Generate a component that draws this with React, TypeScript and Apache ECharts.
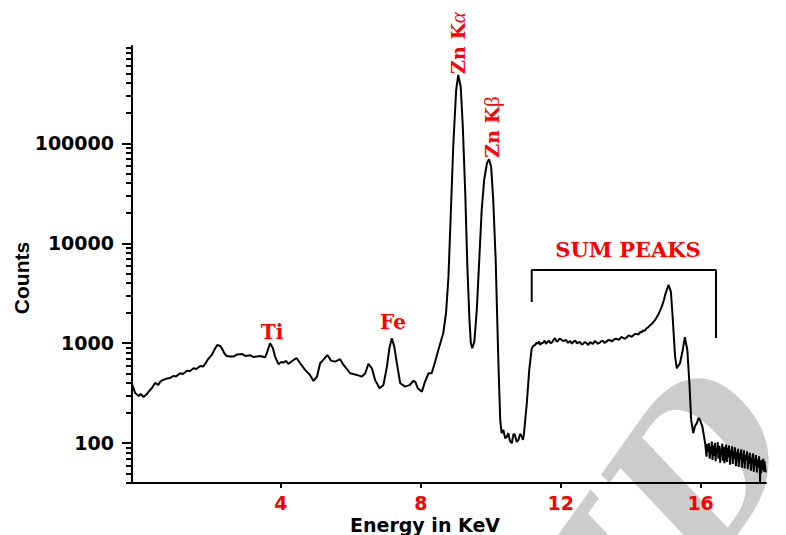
import React, { useEffect, useRef } from "react";
import * as echarts from "echarts";

// Spectrum (energy in keV, counts)
const energy = [
  -0.25, -0.17, -0.07, -0.01, 0.07, 0.17, 0.23, 0.31, 0.4, 0.49, 0.55, 0.63, 0.74, 0.83, 0.93, 1.0, 1.12, 1.2, 1.31, 1.4,
  1.5, 1.58, 1.69, 1.78, 1.83, 1.9, 2.02, 2.12, 2.18, 2.26, 2.32, 2.38, 2.45, 2.55, 2.64, 2.75, 2.88, 2.98, 3.12, 3.2,
  3.31, 3.4, 3.55, 3.61, 3.69, 3.77, 3.83, 3.93, 4.01, 4.07, 4.15, 4.21, 4.36, 4.45, 4.55, 4.69, 4.83, 4.93, 5.03, 5.12,
  5.21, 5.33, 5.43, 5.55, 5.69, 5.79, 5.98, 6.17, 6.31, 6.41, 6.5, 6.6, 6.69, 6.82, 6.93, 7.03, 7.1, 7.17, 7.24, 7.33,
  7.41, 7.55, 7.69, 7.78, 7.84, 7.91, 8.03, 8.12, 8.22, 8.31, 8.41, 8.5, 8.64, 8.72, 8.79, 8.86, 8.93, 9.01, 9.07, 9.14,
  9.2, 9.27, 9.33, 9.39, 9.43, 9.47, 9.53, 9.6, 9.67, 9.74, 9.81, 9.89, 9.95, 10.01, 10.07, 10.14, 10.19, 10.23, 10.27, 10.31,
  10.36, 10.41, 10.46, 10.5, 10.55, 10.6, 10.65, 10.69, 10.74, 10.79, 10.84, 10.89, 10.92, 10.95, 11.03, 11.1, 11.17, 11.22, 11.27, 11.31,
  11.35, 11.38, 11.41, 11.45, 11.5, 11.54, 11.58, 11.62, 11.67, 11.71, 11.75, 11.8, 11.84, 11.88, 11.92, 11.97, 12.01, 12.08, 12.15, 12.21,
  12.27, 12.32, 12.36, 12.42, 12.47, 12.51, 12.55, 12.6, 12.64, 12.69, 12.74, 12.79, 12.84, 12.88, 12.92, 12.97, 13.01, 13.06, 13.12, 13.16,
  13.21, 13.25, 13.3, 13.35, 13.41, 13.46, 13.51, 13.56, 13.61, 13.66, 13.7, 13.74, 13.78, 13.84, 13.89, 13.94, 13.98, 14.03, 14.07, 14.12,
  14.17, 14.22, 14.27, 14.31, 14.35, 14.4, 14.46, 14.5, 14.55, 14.63, 14.7, 14.8, 14.89, 14.95, 15.0, 15.08, 15.15, 15.2, 15.27, 15.32,
  15.41, 15.49, 15.55, 15.62, 15.68, 15.73, 15.79, 15.84, 15.89, 15.94, 15.98, 16.05, 16.13, 16.17, 16.19, 16.21, 16.24, 16.26, 16.28, 16.3,
  16.32, 16.34, 16.36, 16.38, 16.41, 16.43, 16.45, 16.47, 16.49, 16.51, 16.54, 16.56, 16.58, 16.6, 16.62, 16.64, 16.66, 16.68, 16.71, 16.73,
  16.75, 16.77, 16.79, 16.81, 16.84, 16.86, 16.88, 16.9, 16.92, 16.94, 16.96, 16.98, 17.01, 17.03, 17.05, 17.07, 17.09, 17.11, 17.14, 17.16,
  17.18, 17.2, 17.22, 17.24, 17.26, 17.28, 17.31, 17.33, 17.35, 17.37, 17.39, 17.41, 17.44, 17.46, 17.48, 17.5, 17.52, 17.54, 17.56, 17.58,
  17.61, 17.63, 17.65, 17.67, 17.69, 17.7, 17.72, 17.73, 17.75, 17.77, 17.79, 17.81, 17.83, 17.86,
];
const counts = [
  383, 318, 297, 311, 290, 311, 333, 357, 401, 383, 413, 430, 443, 450, 471, 466, 501, 493, 532, 528,
  562, 553, 593, 586, 621, 681, 764, 891, 962, 940, 877, 794, 746, 738, 735, 773, 782, 746, 759, 730,
  735, 746, 724, 824, 1000, 891, 735, 617, 650, 640, 665, 621, 681, 708, 631, 541, 482, 420, 463, 631,
  681, 764, 670, 655, 692, 607, 501, 482, 463, 501, 621, 562, 430, 355, 383, 583, 891, 1122, 925, 583,
  398, 368, 383, 420, 413, 355, 328, 413, 501, 501, 655, 857, 1259, 1995, 4634, 21530, 100000, 341000, 482000, 368000,
  146600, 31620, 5834, 1710, 1000, 891, 1038, 2153, 6808, 21530, 42960, 63100, 69180, 58340, 27100, 6808, 1466, 463, 171, 126,
  136, 112, 116, 126, 105, 100, 124, 121, 103, 108, 124, 116, 108, 126, 251, 541, 891, 940, 962, 1010,
  995, 1040, 962, 1000, 1014, 1060, 984, 1030, 1054, 1000, 1019, 1090, 1122, 1040, 1054, 1110, 1091, 1050, 1079, 1010,
  1054, 990, 1038, 1060, 995, 1020, 1030, 970, 984, 1030, 1000, 960, 1030, 1000, 984, 1050, 1030, 990, 1014, 1050,
  1054, 1010, 1030, 1070, 1079, 1040, 1079, 1110, 1104, 1080, 1117, 1160, 1130, 1110, 1148, 1200, 1183, 1160, 1197, 1240,
  1239, 1220, 1297, 1280, 1343, 1330, 1413, 1440, 1507, 1596, 1710, 1963, 2323, 2710, 3162, 3828, 3281, 1845, 735, 562,
  631, 857, 1148, 857, 398, 171, 126, 149, 158, 179, 171, 147, 100, 73.5, 98, 82, 100, 70, 92, 78,
  104, 68, 95, 74, 101, 66, 90, 79, 102, 70, 94, 64, 88, 76, 99, 67, 92, 63, 86, 97,
  65, 90, 72, 95, 61, 86, 75, 93, 62, 83, 70, 91, 59, 82, 74, 88, 58, 80, 69, 87,
  57, 78, 64, 85, 56, 76, 68, 83, 55, 74, 62, 80, 53, 72, 66, 79, 52, 70, 60, 76,
  51, 69, 57, 74, 63, 41, 66, 50, 68, 54, 70, 52, 66, 51,
];

// Axis ticks
const xTickValues = [4, 8, 12, 16];
const yTickValues = [100, 1000, 10000, 100000];
const yMinorTickValues = [
  40, 50, 60, 70, 80, 90,
  200, 300, 400, 500, 600, 700, 800, 900,
  2000, 3000, 4000, 5000, 6000, 7000, 8000, 9000,
  20000, 30000, 40000, 50000, 60000, 70000, 80000, 90000,
  200000, 300000, 400000, 500000, 600000, 700000, 800000, 900000,
];

// "SUM PEAKS" bracket (energy, counts)
const bracketEnergy = [11.17, 11.17, 16.44, 16.44];
const bracketCounts = [2590, 5410, 5410, 1130];

export default function App() {
  const ref = useRef<HTMLDivElement>(null);

  useEffect(() => {
    if (!ref.current) return;
    const chart = echarts.init(ref.current, null, { renderer: "svg" });

    const spectrum = energy.map((e, i) => [e, counts[i]]);
    const bracket = bracketEnergy.map((e, i) => [e, bracketCounts[i]]);

    const red = "#ff0000";
    const serifBold = { fontFamily: "DejaVu Serif", fontWeight: "bold" as const };

    chart.setOption({
      animation: false,
      backgroundColor: "#ffffff",
      grid: { left: 132, right: 20, top: 46, bottom: 52, containLabel: false },
      xAxis: {
        type: "value",
        min: -0.26,
        max: 17.87,
        axisLine: { onZero: false, lineStyle: { color: "#000", width: 2 } },
        axisTick: { customValues: xTickValues, length: 5, inside: false, lineStyle: { color: "#000", width: 2 } },
        axisLabel: {
          customValues: xTickValues,
          color: red,
          fontFamily: "DejaVu Sans",
          fontWeight: "bold",
          fontSize: 19,
          margin: 10,
        },
        splitLine: { show: false },
      },
      yAxis: [
        {
          type: "log",
          logBase: 10,
          min: 40,
          max: 940000,
          axisLine: { show: true, onZero: false, lineStyle: { color: "#000", width: 2 } },
          axisTick: { show: true, customValues: yTickValues, length: 10, lineStyle: { color: "#000", width: 2 } },
          axisLabel: {
            customValues: yTickValues,
            formatter: (v: number) => String(Math.round(v)),
            color: "#000",
            fontFamily: "DejaVu Sans",
            fontWeight: "bold",
            fontSize: 19,
            margin: 18,
          },
          splitLine: { show: false },
        },
        {
          type: "log",
          logBase: 10,
          min: 40,
          max: 940000,
          position: "left",
          axisLine: { show: false, onZero: false },
          axisTick: { show: true, customValues: yMinorTickValues, length: 6, lineStyle: { color: "#000", width: 2 } },
          axisLabel: { show: false },
          splitLine: { show: false },
        },
      ],
      series: [
        {
          type: "line",
          data: spectrum,
          yAxisIndex: 0,
          symbol: "none",
          showSymbol: false,
          lineStyle: { color: "#000", width: 2 },
          z: 3,
        },
        {
          type: "line",
          data: bracket,
          yAxisIndex: 0,
          symbol: "none",
          showSymbol: false,
          lineStyle: { color: "#000", width: 2 },
          z: 3,
        },
      ],
      graphic: [
        {
          type: "text",
          x: 672,
          y: 505,
          rotation: 0.95,
          z: 0,
          style: {
            text: "ID",
            fill: "#cccccc",
            fontFamily: "DejaVu Serif",
            fontStyle: "italic",
            fontWeight: "bold",
            fontSize: 200,
            align: "center",
            verticalAlign: "middle",
          },
        },
        {
          type: "text",
          x: 21,
          y: 278,
          rotation: Math.PI / 2,
          style: {
            text: "Counts",
            fill: "#000",
            fontFamily: "Liberation Sans",
            fontWeight: "bold",
            fontSize: 21,
            align: "center",
            verticalAlign: "middle",
          },
        },
        {
          type: "text",
          x: 425,
          y: 525,
          style: {
            text: "Energy in KeV",
            fill: "#000",
            fontFamily: "DejaVu Sans",
            fontWeight: "bold",
            fontSize: 19,
            align: "center",
            verticalAlign: "middle",
          },
        },
        {
          type: "text",
          x: 272,
          y: 332,
          style: { text: "Ti", fill: red, ...serifBold, fontSize: 20, align: "center", verticalAlign: "middle" },
        },
        {
          type: "text",
          x: 393,
          y: 322,
          style: { text: "Fe", fill: red, ...serifBold, fontSize: 20, align: "center", verticalAlign: "middle" },
        },
        {
          type: "text",
          x: 628,
          y: 249,
          style: { text: "SUM PEAKS", fill: red, ...serifBold, fontSize: 21, align: "center", verticalAlign: "middle" },
        },
        {
          type: "text",
          x: 458,
          y: 43,
          rotation: Math.PI / 2,
          style: {
            text: "{a|Zn K}{b|α}",
            align: "center",
            verticalAlign: "middle",
            rich: {
              a: { fill: red, ...serifBold, fontSize: 19 },
              b: { fill: red, fontFamily: "Liberation Serif", fontStyle: "italic", fontSize: 21 },
            },
          },
        },
        {
          type: "text",
          x: 492,
          y: 127,
          rotation: Math.PI / 2,
          style: {
            text: "{a|Zn K}{b|β}",
            align: "center",
            verticalAlign: "middle",
            rich: {
              a: { fill: red, ...serifBold, fontSize: 19 },
              b: { fill: red, fontFamily: "Liberation Serif", fontSize: 21 },
            },
          },
        },
      ],
    });

    return () => {
      chart.dispose();
    };
  }, []);

  return (
    <div
      ref={ref}
      style={{ position: "absolute", left: 0, top: 0, width: 786, height: 535, background: "#fff" }}
    />
  );
}
